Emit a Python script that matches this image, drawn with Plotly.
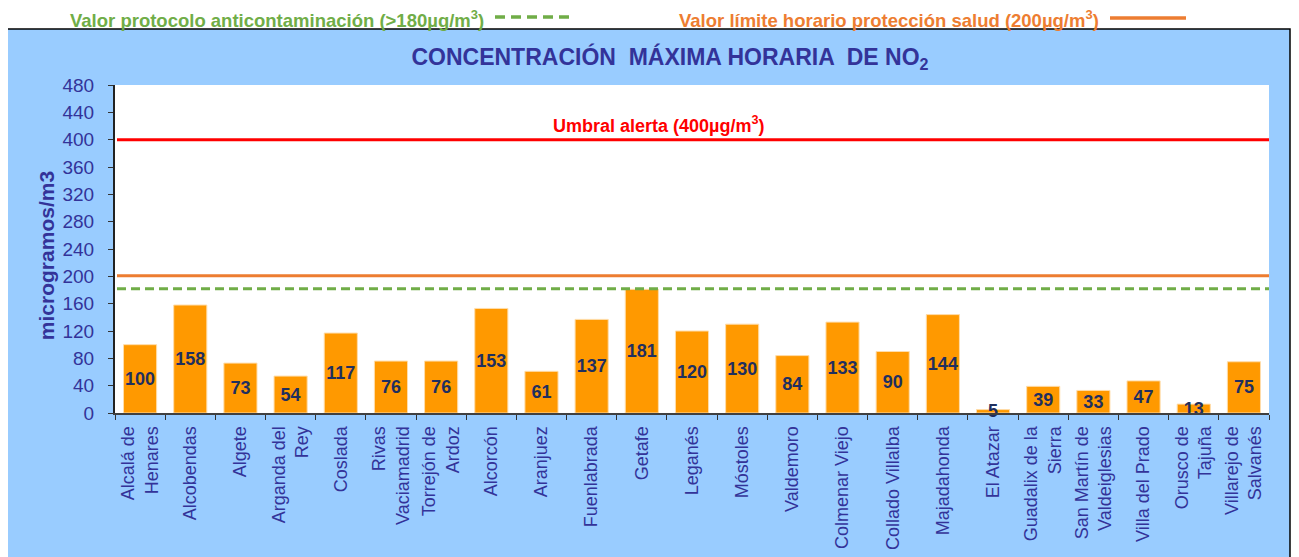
import plotly.graph_objects as go

categories = [
    "Alcalá de<br>Henares", "Alcobendas", "Algete", "Arganda del<br>Rey", "Coslada",
    "Rivas<br>Vaciamadrid", "Torrejón de<br>Ardoz", "Alcorcón", "Aranjuez", "Fuenlabrada",
    "Getafe", "Leganés", "Móstoles", "Valdemoro", "Colmenar Viejo", "Collado Villalba",
    "Majadahonda", "El Atazar", "Guadalix de la<br>Sierra", "San Martín de<br>Valdeiglesias",
    "Villa del Prado", "Orusco de<br>Tajuña", "Villarejo de<br>Salvanés",
]
values = [100, 158, 73, 54, 117, 76, 76, 153, 61, 137, 181, 120, 130, 84, 133, 90,
          144, 5, 39, 33, 47, 13, 75]
y_ticks = [0, 40, 80, 120, 160, 200, 240, 280, 320, 360, 400, 440, 480]

alert_level = 400       # Umbral alerta
limit_level = 201       # Valor límite horario (200 µg/m3), as drawn
protocol_level = 182    # Valor protocolo (>180 µg/m3), as drawn

FONT = "Arial, 'Liberation Sans', sans-serif"
NAVY = "#333399"
GREEN = "#70AD47"
ORANGE = "#ED7D31"
RED = "#FF0000"
BLUE_BG = "#99CCFF"

# page is rendered with an 8px body margin: figure occupies page x 8..1299, y 8..557
W, H = 1291, 549
PL, PR, PT, PB = 115, 1269, 85, 412.7  # plot area in page pixels


def px(xp):
    return (xp - PL) / (PR - PL)


def py(yp):
    return (PB - yp) / (PB - PT)


fig = go.Figure()
fig.add_trace(go.Bar(
    x=categories, y=values,
    marker=dict(color="#FF9900", line=dict(color="#FFDDAA", width=1)),
    text=[str(v) for v in values],
    textposition="inside", insidetextanchor="middle", textangle=0,
    constraintext="none",
    textfont=dict(family=FONT, size=18, color="#1F2F5F", weight="bold"),
    cliponaxis=False,
    showlegend=False,
))

shapes = [
    dict(type="rect", xref="paper", yref="paper", x0=px(7), x1=px(1290), y0=py(600), y1=py(29),
         fillcolor=BLUE_BG, line=dict(color="black", width=1.5), layer="below"),
    dict(type="rect", xref="paper", yref="paper", x0=0, x1=1, y0=0, y1=1,
         fillcolor="white", line=dict(width=0), layer="below"),
    dict(type="line", xref="paper", yref="y", x0=px(117), x1=1, y0=alert_level, y1=alert_level,
         line=dict(color=RED, width=3)),
    dict(type="line", xref="paper", yref="y", x0=px(117), x1=1, y0=limit_level, y1=limit_level,
         line=dict(color=ORANGE, width=3)),
    dict(type="line", xref="paper", yref="y", x0=px(117), x1=1, y0=protocol_level, y1=protocol_level,
         line=dict(color=GREEN, width=3, dash="9px,5px")),
    dict(type="line", xref="paper", yref="paper", x0=px(495), x1=px(571), y0=py(17), y1=py(17),
         line=dict(color=GREEN, width=3.5, dash="10px,6px")),
    dict(type="line", xref="paper", yref="paper", x0=px(1110), x1=px(1186), y0=py(18), y1=py(18),
         line=dict(color=ORANGE, width=3.5)),
]

annotations = [
    dict(text="Valor protocolo anticontaminación (>180µg/m<sup>3</sup>)",
         xref="paper", yref="paper", x=px(68), y=py(19),
         xanchor="left", yanchor="middle", showarrow=False,
         font=dict(family=FONT, size=18.5, color=GREEN, weight="bold")),
    dict(text="Valor límite horario protección salud (200µg/m<sup>3</sup>)",
         xref="paper", yref="paper", x=px(677), y=py(19),
         xanchor="left", yanchor="middle", showarrow=False,
         font=dict(family=FONT, size=18.5, color=ORANGE, weight="bold")),
    dict(text="Umbral alerta (400µg/m<sup>3</sup>)",
         xref="paper", yref="paper", x=px(658), y=py(124),
         xanchor="center", yanchor="middle", showarrow=False,
         font=dict(family=FONT, size=18, color=RED, weight="bold")),
    dict(text="microgramos/m3", textangle=-90,
         xref="paper", yref="paper", x=px(46), y=py(256),
         xanchor="center", yanchor="middle", showarrow=False,
         font=dict(family=FONT, size=21, color=NAVY, weight="bold")),
]

fig.update_layout(
    width=W, height=H,
    margin=dict(l=PL - 8, r=W - (PR - 8), t=PT - 8, b=H - (PB - 8)),
    paper_bgcolor="white",
    plot_bgcolor="white",
    bargap=0.34,
    font=dict(family=FONT, color=NAVY),
    title=dict(text="CONCENTRACIÓN  MÁXIMA HORARIA  DE NO<sub>2</sub>",
               x=(670 - 8) / W, xanchor="center", xref="container",
               y=1 - (57 - 8) / H, yanchor="middle", yref="container",
               font=dict(family=FONT, size=23, color=NAVY, weight="bold")),
    shapes=shapes,
    annotations=annotations,
    xaxis=dict(
        tickangle=-90, tickfont=dict(family=FONT, size=18, color=NAVY),
        ticks="outside", ticklen=5, tickcolor="#333333", tickson="boundaries",
        ticklabelstandoff=4,
        showline=True, linecolor="#404040", linewidth=2,
        showgrid=False, automargin=False,
    ),
    yaxis=dict(
        range=[0, 480], tickvals=y_ticks,
        tickfont=dict(family=FONT, size=19, color=NAVY),
        ticks="outside", ticklen=5, tickcolor="#333333",
        ticklabelstandoff=10,
        showline=True, linecolor="#222222", linewidth=2,
        showgrid=False, zeroline=False, automargin=False,
    ),
)

fig.write_html("out.html")
